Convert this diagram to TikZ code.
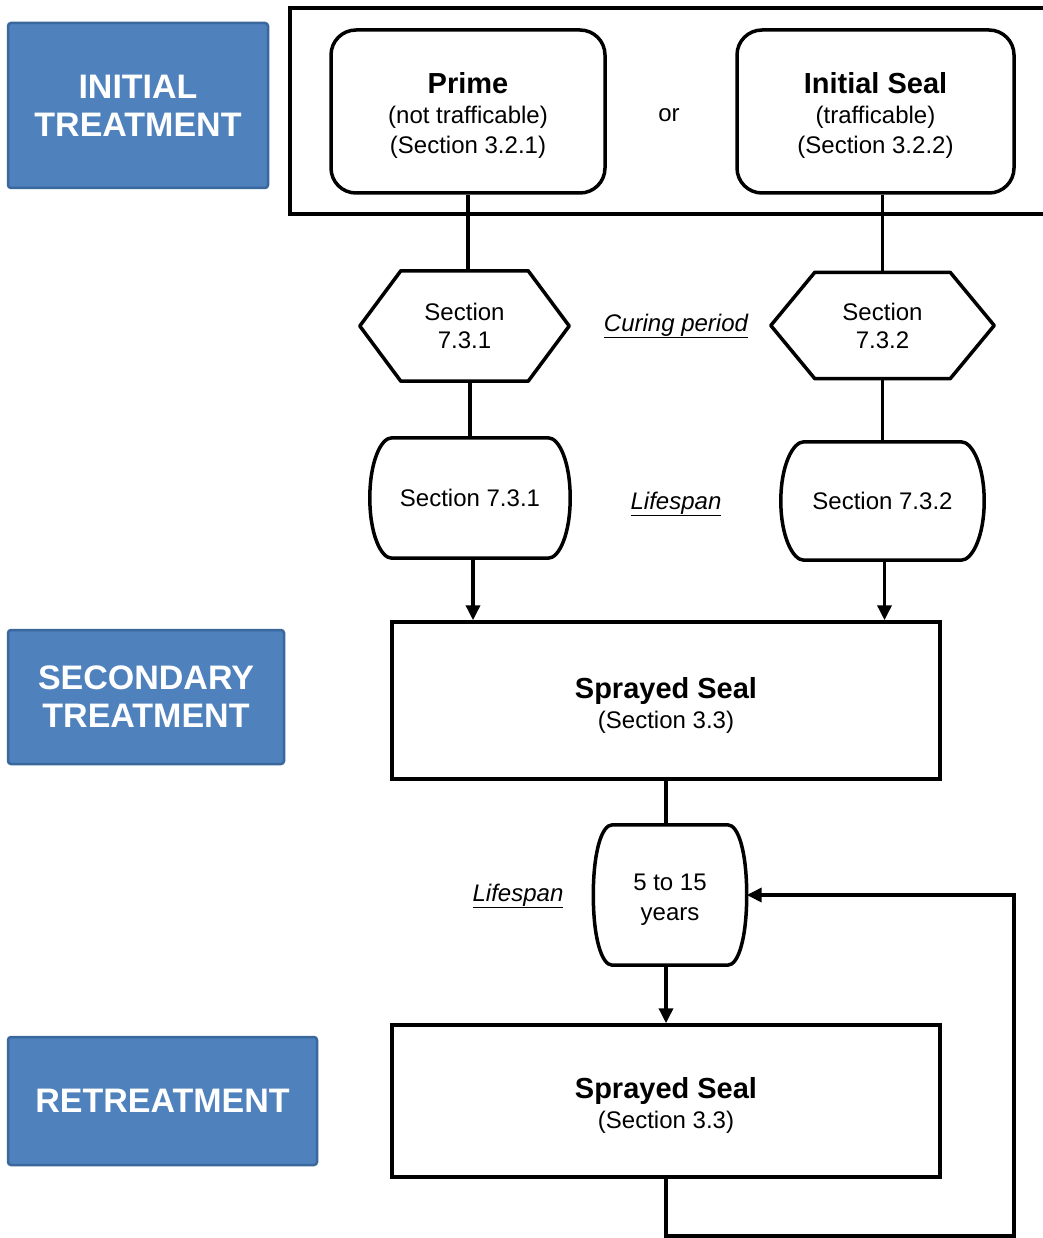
\documentclass[tikz,border=0pt]{standalone}
\usepackage{fontspec}
\setmainfont{Liberation Sans}
\usetikzlibrary{arrows.meta,calc}
\definecolor{bluefill}{HTML}{4F81BD}
\definecolor{blueline}{HTML}{3A679C}
% barrel outline: #1 node, #2 inset of the top edge
\newcommand\barrelpath[2]{%
\draw[shapeline]
 ($(#1.north west)+(#2+6,0)$) -- ($(#1.north east)+(-#2-6,0)$)
 .. controls ($(#1.north east)+(-#2+5,0)$) and ($(#1.east)+(0,-0.6*\bh)$) .. (#1.east)
 .. controls ($(#1.east)+(0,0.6*\bh)$) and ($(#1.south east)+(-#2+5,0)$) .. ($(#1.south east)+(-#2-6,0)$)
 -- ($(#1.south west)+(#2+6,0)$)
 .. controls ($(#1.south west)+(#2-5,0)$) and ($(#1.west)+(0,0.6*\bh)$) .. (#1.west)
 .. controls ($(#1.west)+(0,-0.6*\bh)$) and ($(#1.north west)+(#2-5,0)$) .. ($(#1.north west)+(#2+6,0)$)
 -- cycle;}
\newcommand\hexpath[2]{\draw[shapeline] (#1.west) -- ([xshift=#2]#1.north west) -- ([xshift=-#2]#1.north east) -- (#1.east) -- ([xshift=-#2]#1.south east) -- ([xshift=#2]#1.south west) -- cycle;}
\tikzset{
  bluebox/.style={draw=blueline, line width=2.5pt, fill=bluefill, rounded corners=3pt, text=white,
    font=\bfseries\fontsize{34}{38}\selectfont, align=center, inner sep=0pt},
  txt/.style={font=\fontsize{24}{30}\selectfont, align=center, inner sep=0pt},
  roundbox/.style={draw, line width=3.5pt, rounded corners=25pt, inner sep=0pt},
  sqbox/.style={draw, line width=3.5pt, inner sep=0pt},
  ghost/.style={txt, draw=none},
  shapeline/.style={line width=3.5pt, line join=round},
  conn/.style={line width=3.5pt},
  arr/.style={line width=3.5pt, -{Triangle[length=15pt,width=14pt]}},
  lbl/.style={txt, font=\itshape\fontsize{24}{30}\selectfont},
}
\newcommand\bigb[1]{{\bfseries\fontsize{29}{30}\selectfont #1}}
\begin{document}
\begin{tikzpicture}[x=1pt,y=-1pt]
\useasboundingbox (0,0) rectangle (1042,1238);
% side labels
\node[bluebox, minimum width=260pt, minimum height=165pt] (initT) at (138,105.5) {INITIAL\\TREATMENT};
\node[bluebox, minimum width=276pt, minimum height=134pt] (secT) at (146,697) {SECONDARY\\TREATMENT};
\node[bluebox, minimum width=309pt, minimum height=128pt] (retT) at (162.5,1101) {RETREATMENT};
% top frame
\coordinate (frTR) at (1046,8);
\coordinate (frTL) at (290,8);
\coordinate (frBL) at (290,214);
\coordinate (frBR) at (1046,214);
\draw[line width=3.5pt] (frTR) -- (frTL) -- (frBL) -- (frBR);
% initial boxes
\node[roundbox, minimum width=274pt, minimum height=163pt] (prime) at (468,111.5) {};
\node[txt] (primeT) at ([yshift=-4pt]prime.center) {\bigb{Prime}\\(not trafficable)\\(Section 3.2.1)};
\node[roundbox, minimum width=277pt, minimum height=163pt] (iseal) at (875.5,111.5) {};
\node[txt] (isealT) at ([yshift=-4pt]iseal.center) {\bigb{Initial Seal}\\(trafficable)\\(Section 3.2.2)};
\node[txt] (or) at (669,115) {or};
% curing hexagons
\node[ghost, minimum width=209pt, minimum height=110pt, font=\fontsize{24}{28}\selectfont] (hexA) at (464.5,326) {Section\\7.3.1};
\hexpath{hexA}{41pt}
\node[ghost, minimum width=223pt, minimum height=106pt, font=\fontsize{24}{28}\selectfont] (hexB) at (882.5,325.5) {Section\\7.3.2};
\hexpath{hexB}{44pt}
\node[lbl] (curing) at (676,326) {\underline{Curing period}};
% lifespan barrels
\def\bh{60}
\node[ghost, minimum width=200pt, minimum height=120pt] (lifeA) at (470,498) {Section 7.3.1};
\barrelpath{lifeA}{16}
\def\bh{59}
\node[ghost, minimum width=203pt, minimum height=118pt] (lifeB) at (882.5,501) {Section 7.3.2};
\barrelpath{lifeB}{17}
\node[lbl] (lifespan1) at (676,504) {\underline{Lifespan}};
% sprayed seal 1
\node[sqbox, minimum width=548pt, minimum height=157pt] (seal1) at (666,700.5) {};
\node[txt] (seal1T) at ([yshift=-5pt]seal1.center) {\bigb{Sprayed Seal}\\(Section 3.3)};
% lifespan 3
\def\bh{70}
\node[ghost, minimum width=153pt, minimum height=140pt] (life3) at (670,895) {};
\node[txt] (life3T) at ([yshift=-4.5pt]life3.center) {5 to 15\\years};
\barrelpath{life3}{13}
\node[lbl] (lifespan2) at (518,896) {\underline{Lifespan}};
% sprayed seal 2
\node[sqbox, minimum width=548pt, minimum height=152pt] (seal2) at (666,1101) {};
\node[txt] (seal2T) at ([yshift=-4.5pt]seal2.center) {\bigb{Sprayed Seal}\\(Section 3.3)};
% connectors
\draw[conn] (prime.south) -- (prime.south |- hexA.north);
\draw[conn] (iseal.south -| hexB.north) -- (hexB.north);
\draw[conn] (lifeA.north |- hexA.south) -- (lifeA.north);
\draw[conn] (hexB.south) -- (lifeB.north);
\draw[arr] ([xshift=3pt]lifeA.south) -- ([xshift=3pt]lifeA.south |- seal1.north);
\draw[arr] ([xshift=2pt]lifeB.south) -- ([xshift=2pt]lifeB.south |- seal1.north);
\draw[conn] (seal1.south) -- (seal1.south |- life3.north);
\draw[arr] (seal1.south |- life3.south) -- (seal2.north);
\coordinate (loopA) at (666,1236);
\coordinate (loopB) at (1014,1236);
\draw[arr] (seal2.south) -- (loopA) -- (loopB) |- (life3.east);
\end{tikzpicture}
\end{document}
